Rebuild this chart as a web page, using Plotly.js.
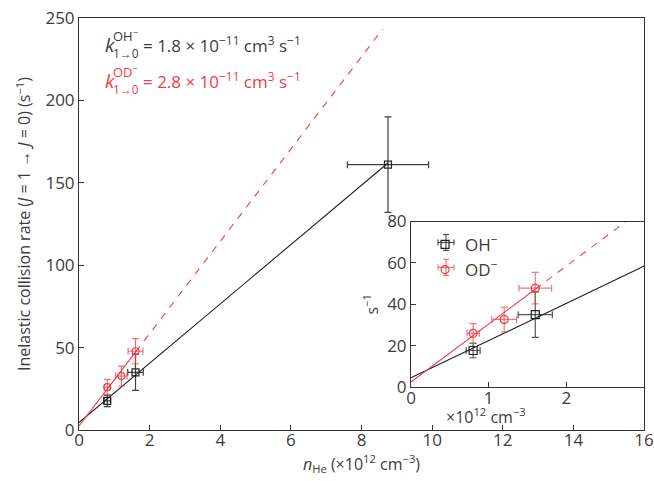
<!DOCTYPE html>
<html>
<head>
<meta charset="utf-8">
<script src="https://cdn.plot.ly/plotly-3.0.1.min.js"></script>
<style>html,body{margin:0;padding:0;background:#fff;}#chart{width:654px;height:481px;}</style>
</head>
<body>
<div id="chart"></div>
<script>
// ---- data ----
const ohX = [0.8, 1.6, 8.75];
const ohY = [17.7, 35, 161];
const ohXErr = [0.09, 0.22, 1.15];
const ohYErr = [3.5, 11, 29];

const odX = [0.8, 1.2, 1.6];
const odY = [26, 32.7, 47.8];
const odXErr = [0.08, 0.16, 0.21];
const odYErr = [4.7, 6, 7.6];

const ohFitX = [0, 8.75];
const ohFitY = [4.5, 162];
const odFitSolidX = [0, 1.6];
const odFitSolidY = [2.5, 47.3];
const odFitDashX = [1.6, 8.6];
const odFitDashY = [47.3, 243.3];

const mainXTicks = [0, 2, 4, 6, 8, 10, 12, 14, 16];
const mainYTicks = [0, 50, 100, 150, 200, 250];
const insetXTicks = [0, 1, 2];
const insetYTicks = [0, 20, 40, 60, 80];

const BLACK = '#222222';
const RED = '#ef3e46';
const TXT = '#3c3c3c';
const FONT = '"Open Sans", "Noto Sans", sans-serif';
const ERR_BLACK = 'rgba(30,30,30,0.75)';
const ERR_RED = 'rgba(239,62,70,0.7)';

function dataTrace(x, y, ex, ey, color, symbol, size, xa, ya, name, showLegend, errColor) {
  return {
    x: x, y: y, type: 'scatter', mode: 'markers', name: name,
    xaxis: xa, yaxis: ya, showlegend: showLegend,
    marker: {symbol: symbol, size: size, color: color, line: {color: color, width: 1.2}},
    error_x: {type: 'data', array: ex, visible: true, color: errColor, thickness: 1.2, width: 3.5},
    error_y: {type: 'data', array: ey, visible: true, color: errColor, thickness: 1.2, width: 3.5}
  };
}
function lineTrace(x, y, color, dash, xa, ya) {
  return {x: x, y: y, type: 'scatter', mode: 'lines', xaxis: xa, yaxis: ya, showlegend: false,
    line: {color: color, width: 1.1, dash: dash}, hoverinfo: 'skip'};
}

const traces = [
  lineTrace(ohFitX, ohFitY, BLACK, 'solid', 'x', 'y'),
  lineTrace(odFitSolidX, odFitSolidY, RED, 'solid', 'x', 'y'),
  lineTrace(odFitDashX, odFitDashY, RED, '7px,7px', 'x', 'y'),
  dataTrace(ohX, ohY, ohXErr, ohYErr, BLACK, 'square-open', 7, 'x', 'y', 'OH<sup>−</sup>', false, 'rgba(30,30,30,0.85)'),
  dataTrace(odX, odY, odXErr, odYErr, RED, 'circle-open', 7, 'x', 'y', 'OD<sup>−</sup>', false, 'rgba(239,62,70,0.75)'),
  lineTrace(ohFitX, ohFitY, BLACK, 'solid', 'x2', 'y2'),
  lineTrace(odFitSolidX, odFitSolidY, RED, 'solid', 'x2', 'y2'),
  lineTrace(odFitDashX, odFitDashY, RED, '7px,7px', 'x2', 'y2'),
  dataTrace(ohX, ohY, ohXErr, ohYErr, BLACK, 'square-open', 8, 'x2', 'y2', 'OH<sup>−</sup>', true, ERR_BLACK),
  dataTrace(odX, odY, odXErr, odYErr, RED, 'circle-open', 8, 'x2', 'y2', 'OD<sup>−</sup>', true, ERR_RED)
];

const axisCommon = {
  showgrid: false, zeroline: false, showline: true, linecolor: '#333', linewidth: 1,
  mirror: true, ticks: 'inside', ticklen: 5, tickwidth: 1, tickcolor: '#333',
  tickfont: {family: FONT, size: 17, color: TXT}
};

const PX = px => (px - 79) / 565;
const PY = py => (430 - py) / 413;

function ann(text, px, py, size, color, anchor) {
  return {text: text, xref: 'paper', yref: 'paper', x: PX(px), y: PY(py),
    xanchor: anchor || 'left', yanchor: 'middle', showarrow: false,
    font: {family: FONT, size: size, color: color}};
}

// small error-bar glyphs decorating the legend symbols
function legendBars(cx, cy, color) {
  const seg = (x0, y0, x1, y1) => ({type: 'line', xref: 'paper', yref: 'paper',
    x0: PX(x0), y0: PY(y0), x1: PX(x1), y1: PY(y1), line: {color: color, width: 1.2}});
  return [
    seg(cx - 8, cy, cx + 8, cy), seg(cx, cy - 8, cx, cy + 8),
    seg(cx - 8, cy - 3, cx - 8, cy + 3), seg(cx + 8, cy - 3, cx + 8, cy + 3),
    seg(cx - 3, cy - 8, cx + 3, cy - 8), seg(cx - 3, cy + 8, cx + 3, cy + 8)
  ];
}

const layout = {
  width: 654, height: 481,
  margin: {l: 79, r: 10, t: 18, b: 51},
  paper_bgcolor: '#fff', plot_bgcolor: '#fff',
  font: {family: FONT, color: TXT},
  showlegend: true,
  legend: {x: 0.6125, y: 0.493, xanchor: 'left', yanchor: 'top', bgcolor: 'rgba(0,0,0,0)',
    font: {family: FONT, size: 17, color: TXT}, tracegroupgap: 0, itemwidth: 30},
  xaxis: Object.assign({}, axisCommon, {domain: [0, 1], range: [0, 16], tickvals: mainXTicks,
    ticklabelstandoff: -5,
    title: {text: '<i>n</i><sub>He</sub> (×10<sup>12</sup> cm<sup>−3</sup>)', font: {family: FONT, size: 16, color: TXT}, standoff: 8}}),
  yaxis: Object.assign({}, axisCommon, {domain: [0, 1], range: [0, 250], tickvals: mainYTicks,
    title: {text: 'Inelastic collision rate (<i>J</i> = 1 → <i>J</i> = 0) (s<sup>−1</sup>)', font: {family: FONT, size: 16, color: TXT}, standoff: 10}}),
  xaxis2: Object.assign({}, axisCommon, {domain: [0.5876, 1.0], range: [0, 3], tickvals: insetXTicks, anchor: 'y2',
    ticklabelstandoff: -5}),
  yaxis2: Object.assign({}, axisCommon, {domain: [0.104, 0.506], range: [0, 80], tickvals: insetYTicks, anchor: 'x2',
    title: {text: 's<sup>−1</sup>', font: {family: FONT, size: 16, color: TXT}, standoff: 4}}),
  shapes: [].concat(legendBars(446, 242, ERR_BLACK), legendBars(446, 267, ERR_RED)),
  annotations: [
    ann('<i>k</i>', 103, 44, 19, TXT),
    ann('OH<sup>−</sup>', 111, 35, 13, TXT),
    ann('1→0', 111, 53, 12, TXT),
    ann('= 1.8 × 10<sup>−11</sup> cm<sup>3</sup> s<sup>−1</sup>', 141, 44, 17, TXT),
    ann('<i>k</i>', 103, 80, 19, RED),
    ann('OD<sup>−</sup>', 111, 71, 13, RED),
    ann('1→0', 111, 89, 12, RED),
    ann('= 2.8 × 10<sup>−11</sup> cm<sup>3</sup> s<sup>−1</sup>', 141, 80, 17, RED),
    ann('×10<sup>12</sup> cm<sup>−3</sup>', 486, 416, 16, TXT, 'center')
  ]
};

Plotly.newPlot('chart', traces, layout, {displayModeBar: false, staticPlot: true});
</script>
</body>
</html>
